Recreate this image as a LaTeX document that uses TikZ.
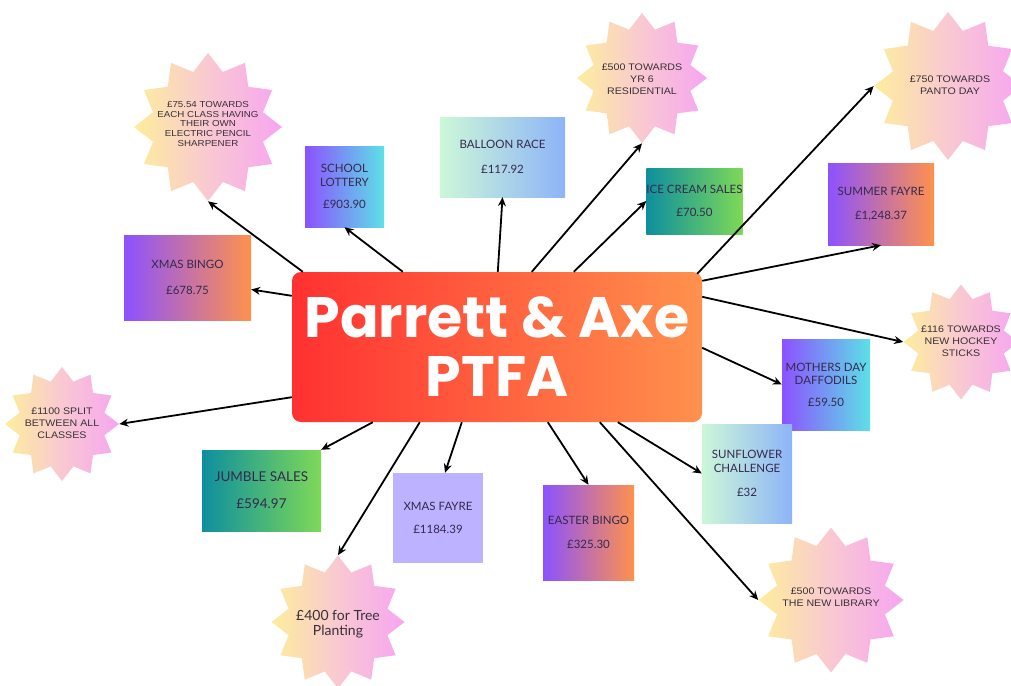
\documentclass[tikz,border=0pt]{standalone}
\usepackage{fontspec}
\setmainfont{Lato}
\newfontfamily\titlefont{Poppins}
\newfontfamily\starfont[FakeStretch=1.12]{Liberation Sans}
\newfontfamily\treefont{Lato}
\usetikzlibrary{shapes.geometric,arrows.meta,calc}
\definecolor{cpurple}{HTML}{8C52FF}
\definecolor{corange}{HTML}{FF914D}
\definecolor{ccyan}{HTML}{5CE1E6}
\definecolor{cteal}{HTML}{0E8F9E}
\definecolor{cgreen}{HTML}{7ED957}
\definecolor{cmint}{HTML}{CDF7D8}
\definecolor{cblue}{HTML}{8DB4F8}
\definecolor{clav}{HTML}{BCB2FF}
\definecolor{cred}{HTML}{FF3131}
\definecolor{syellow}{HTML}{FDEE9C}
\definecolor{spink}{HTML}{F9C8D2}
\definecolor{smag}{HTML}{F6A5F1}
\definecolor{txt}{HTML}{35294F}
\definecolor{stxt}{HTML}{3A3038}
\begin{document}
\begin{tikzpicture}[x=1pt,y=-1pt,
  box/.style={rectangle, inner sep=0pt, align=center, text=txt,
    font=\fontsize{11.5}{13.5}\selectfont},
  po/.style={left color=cpurple, right color=corange},
  pc/.style={left color=cpurple, right color=ccyan},
  tg/.style={left color=cteal, right color=cgreen},
  mb/.style={left color=cmint, right color=cblue},
  burst/.style={star, star points=12, star point ratio=1.3, inner sep=0pt,
    draw=none, left color=syellow, right color=smag, middle color=spink},
  stext/.style={align=center, text=stxt, inner sep=0pt,
    font=\starfont\fontsize{9.5}{12.2}\selectfont},
  arr/.style={draw=black, line width=1.8pt, -{Stealth[length=9pt,width=8pt]}}
]
\useasboundingbox (0,0) rectangle (1011,685);
\fill[white] (0,0) rectangle (1011,685);

% centre
\node[rectangle, rounded corners=9pt, minimum width=410pt, minimum height=150pt,
  inner sep=0pt, left color=cred, right color=corange, text=white, align=center,
  font=\titlefont\bfseries\fontsize{57}{59}\selectfont] (c) at (497,347) {Parrett \& Axe\\PTFA};

% boxes
\node[box, pc, minimum width=79pt, minimum height=81pt] (lot) at (344.5,186.5) {SCHOOL\\LOTTERY\\[9pt]£903.90};
\node[box, po, minimum width=127pt, minimum height=85pt] (bingo) at (187.5,277.5) {XMAS BINGO\\[13pt]£678.75};
\node[box, mb, minimum width=125pt, minimum height=80pt] (balloon) at (502.5,157) {BALLOON RACE\\[12pt]£117.92};
\node[box, tg, minimum width=95pt, minimum height=66pt] (ice) at (694.5,201) {ICE CREAM SALES\\[9pt]£70.50};
\node[box, po, minimum width=106pt, minimum height=82pt] (summer) at (881,204) {SUMMER FAYRE\\[11pt]£1,248.37};
\node[box, pc, minimum width=88pt, minimum height=91pt] (mothers) at (826,384.5) {MOTHERS DAY\\DAFFODILS\\[8pt]£59.50};
\node[box, mb, minimum width=90pt, minimum height=99pt] (sunflower) at (747,473.5) {SUNFLOWER\\CHALLENGE\\[11pt]£32};
\node[box, po, minimum width=91pt, minimum height=95pt] (easter) at (588.5,532.5) {EASTER BINGO\\[10pt]£325.30};
\node[box, fill=clav, minimum width=90pt, minimum height=90pt] (xfayre) at (438,518) {XMAS FAYRE\\[10pt]£1184.39};
\node[box, tg, minimum width=119pt, minimum height=81pt, font=\fontsize{13.5}{15}\selectfont] (jumble) at (261.5,490.5) {JUMBLE SALES\\[12pt]£594.97};

% starbursts
\node[burst, minimum size=148pt] (s1) at (208,127) {};
\node[stext, font=\starfont\fontsize{8.7}{9.8}\selectfont] (s1t) at (208,124) {£75.54 TOWARDS\\EACH CLASS HAVING\\THEIR OWN\\ELECTRIC PENCIL\\SHARPENER};
\node[burst, minimum size=130pt] (s2) at (642,78) {};
\node[stext] (s2t) at (642,79) {£500 TOWARDS\\YR 6\\RESIDENTIAL};
\node[burst, minimum size=148pt] (s3) at (948,86) {};
\node[stext] (s3t) at (950,85) {£750 TOWARDS\\PANTO DAY};
\node[burst, minimum size=114pt] (s4) at (62,424) {};
\node[stext] (s4t) at (62,423) {£1100 SPLIT\\BETWEEN ALL\\CLASSES};
\node[burst, minimum size=115pt] (s5) at (961,342) {};
\node[stext] (s5t) at (961,341) {£116 TOWARDS\\NEW HOCKEY\\STICKS};
\node[burst, minimum size=133pt] (s6) at (338,622) {};
\node[stext, font=\treefont\fontsize{14}{15.5}\selectfont] (s6t) at (338,624) {£400 for Tree\\Planting};
\node[burst, minimum size=145pt] (s7) at (831,600) {};
\node[stext] (s7t) at (831,597) {£500 TOWARDS\\THE NEW LIBRARY};

% connectors
\draw[arr] ($(c.north west)+(11,0)$) -- (s1.270);
\draw[arr] ($(c.north west)+(111,0)$) -- (lot.south);
\draw[arr] ($(c.north west)+(206,0)$) -- (balloon.south);
\draw[arr] ($(c.north west)+(240,0)$) -- (s2.270);
\draw[arr] ($(c.north west)+(282,0)$) -- (ice.west);
\draw[arr] ($(c.north east)+(-5,2)$) -- (s3.180);
\draw[arr] ($(c.north east)+(0,9)$) -- (summer.south);
\draw[arr] ($(c.north east)+(0,25)$) -- (s5.180);
\draw[arr] ($(c.north east)+(0,76)$) -- (mothers.west);
\draw[arr] ($(c.south west)+(326,0)$) -- (sunflower.west);
\draw[arr] ($(c.south west)+(308,0)$) -- (s7.180);
\draw[arr] ($(c.south west)+(256,0)$) -- (easter.north);
\draw[arr] ($(c.south west)+(170,0)$) -- ($(xfayre.north)+(7,0)$);
\draw[arr] ($(c.south west)+(128,0)$) -- (s6.90);
\draw[arr] ($(c.south west)+(81,0)$) -- (jumble.north east);
\draw[arr] ($(c.south west)+(0,-25)$) -- (s4.0);
\draw[arr] ($(c.north west)+(0,24)$) -- ($(bingo.east)+(0,12)$);
\end{tikzpicture}
\end{document}
